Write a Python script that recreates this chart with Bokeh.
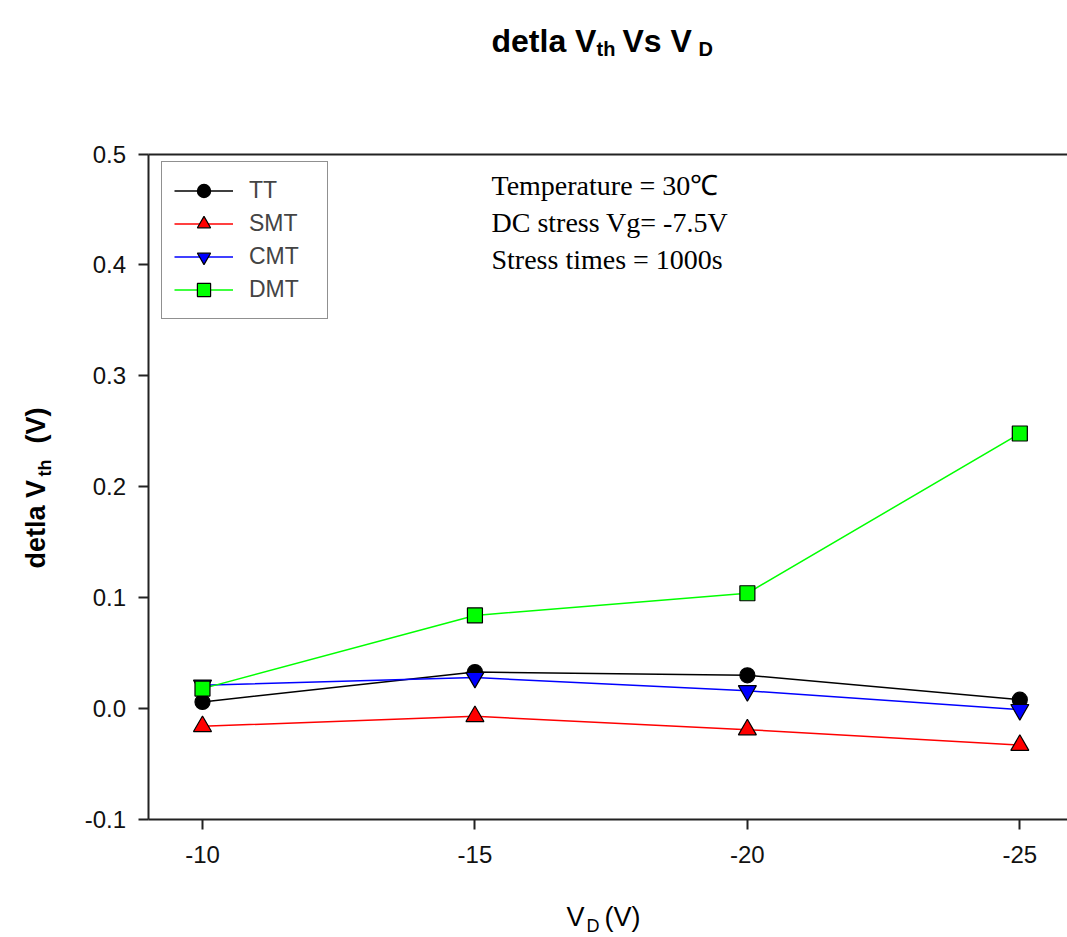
from bokeh.plotting import figure
from bokeh.models import (Range1d, FixedTicker, Legend, LegendItem, Label, LinearAxis)
from bokeh.embed import file_html
from bokeh.resources import INLINE
import math

# ---- data ----
vd = [-10, -15, -20, -25]
tt = [0.006, 0.033, 0.030, 0.008]
smt = [-0.016, -0.007, -0.019, -0.033]
cmt = [0.021, 0.028, 0.016, -0.001]
dmt = [0.018, 0.084, 0.104, 0.248]
series_names = ["TT", "SMT", "CMT", "DMT"]
y_ticks = [-0.1, 0.0, 0.1, 0.2, 0.3, 0.4, 0.5]
x_ticks = [-10, -15, -20, -25]
notes = ["Temperature = 30\u2103", "DC stress Vg= -7.5V", "Stress times = 1000s"]

# axis limits of the plotting box
X_LO, X_HI = -9.0, -25.875
Y_LO, Y_HI = -0.1, 0.5

# geometry (canvas px) of the plotting box
W, H = 1067, 937
FL, FR, FT, FB = 147.5, 1067.0, 153.5, 819.0
xs = (FR - FL) / (X_LO - X_HI)      # px per unit (x reversed)
ys = (FB - FT) / (Y_HI - Y_LO)      # px per unit
x_start = X_LO + FL / xs
x_end = X_LO - (W - FL) / xs
y_end = Y_HI + FT / ys
y_start = Y_LO - (H - FB) / ys

p = figure(width=W, height=H, output_backend="svg", toolbar_location=None,
           x_range=Range1d(x_start, x_end), y_range=Range1d(y_start, y_end),
           x_axis_location=None, y_axis_location=None, min_border=0)
p.title.visible = False
p.outline_line_color = None
p.background_fill_color = "white"
p.border_fill_color = "white"
p.xgrid.visible = False
p.ygrid.visible = False

xaxis = LinearAxis(fixed_location=Y_LO, bounds=(X_LO, X_HI))
yaxis = LinearAxis(fixed_location=X_LO, bounds=(Y_LO, Y_HI))
topaxis = LinearAxis(fixed_location=Y_HI, bounds=(X_LO, X_HI))
for ax in (xaxis, yaxis, topaxis):
    ax.axis_line_width = 2
    ax.axis_line_color = "#222222"
    ax.major_tick_line_width = 2
    ax.major_tick_line_color = "#222222"
    ax.major_tick_in = 0
    ax.major_tick_out = 10
    ax.minor_tick_line_color = None
    ax.major_label_text_font = "Liberation Sans"
    ax.major_label_text_font_size = "24px"
    ax.major_label_text_color = "#111111"

xaxis.ticker = FixedTicker(ticks=x_ticks)
xaxis.major_label_overrides = {t: f"{t:d}" for t in x_ticks}
xaxis.major_label_standoff = 16
yaxis.ticker = FixedTicker(ticks=y_ticks)
yaxis.major_label_overrides = {t: f"{t:.1f}" for t in y_ticks}
yaxis.major_label_standoff = 12
topaxis.major_tick_line_color = None
topaxis.major_label_text_color = None
topaxis.ticker = FixedTicker(ticks=[])
p.add_layout(xaxis, "below")
p.add_layout(yaxis, "left")
p.add_layout(topaxis, "above")

colors = ["black", "red", "blue", "#00FF00"]
markers = ["circle", "triangle", "inverted_triangle", "square"]
sizes = [15, 18, 18, 15]
items = []
for name, yv, c, m, s in zip(series_names, [tt, smt, cmt, dmt], colors, markers, sizes):
    ln = p.line(vd, yv, line_color=c, line_width=1.5)
    sc = p.scatter(vd, yv, marker=m, size=s, fill_color=c, line_color="black", line_width=1.2)
    items.append(LegendItem(label=name, renderers=[ln, sc]))

legend = Legend(items=items, location=(161, H - 319), border_line_color="#222222",
                border_line_width=1.5, background_fill_color="white", background_fill_alpha=1,
                label_text_font="Liberation Sans", label_text_font_size="23px",
                glyph_width=59, glyph_height=33, label_height=20, label_width=66,
                spacing=0, padding=12, label_standoff=16, margin=0)
p.add_layout(legend, "center")


def lab(text, cx, cy, size, bold=False, font="Liberation Sans", align="left",
        baseline="alphabetic", angle=0.0):
    p.add_layout(Label(x=cx, y=H - cy, x_units="screen", y_units="screen",
                       text=text, text_font=font, text_font_size=f"{size}px",
                       text_font_style="bold" if bold else "normal",
                       text_align=align, text_baseline=baseline, angle=angle,
                       text_color="black"))

# title: detla V_th Vs V_D
lab("detla V", 491, 40, 32, bold=True)
lab("th", 596, 48, 20, bold=True)
lab("Vs V", 622, 40, 32, bold=True)
lab("D", 698, 48, 20, bold=True)

# x axis label: V_D (V)
lab("V", 566, 916, 27)
lab("D", 586, 925, 18)
lab("(V)", 604, 916, 27)

# y axis label: detla V_th (V)
ang = math.pi / 2
lab("detla V", 35, 568, 27, bold=True, angle=ang)
lab("th", 44, 476, 18, bold=True, angle=ang)
lab("(V)", 35, 443, 27, bold=True, angle=ang)

# annotation text
for i, t in enumerate(notes):
    lab(t, 491, 185 + 37 * i, 28, font="Liberation Serif", baseline="middle")

open("out.html", "w").write(file_html(p, INLINE))
